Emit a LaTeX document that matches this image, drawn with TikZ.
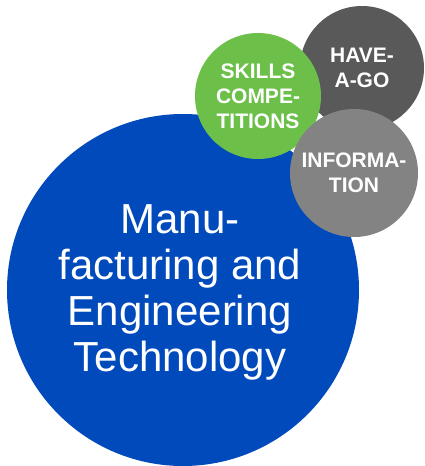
\documentclass[tikz,border=0pt]{standalone}
\usepackage{fontspec}
\setmainfont{Liberation Sans}
\definecolor{bigblue}{HTML}{004ABB}
\definecolor{skillgreen}{HTML}{6CC04A}
\definecolor{darkgrey}{HTML}{595959}
\definecolor{midgrey}{HTML}{838383}
\tikzset{
  bubble/.style={circle, inner sep=0pt, text=white, align=center},
  smalltext/.style={font=\fontsize{21}{25}\selectfont\bfseries},
  bigtext/.style={font=\fontsize{42}{46}\selectfont}
}
\begin{document}
\begin{tikzpicture}[x=1pt,y=-1pt]
\useasboundingbox (0,0) rectangle (425,466);
\node[bubble, fill=bigblue, minimum size=352pt, bigtext] (main) at (183,290) {};
\node[text=white, align=center, bigtext] (maintext) at (180,292) {Manu-\\facturing and\\Engineering\\Technology};
\node[bubble, fill=darkgrey, minimum size=124pt, smalltext] (havego) at (362,68) {HAVE-\\A-GO};
\node[bubble, fill=skillgreen, minimum size=126pt, smalltext] (skills) at (258,96) {SKILLS\\COMPE-\\TITIONS};
\node[bubble, fill=midgrey, minimum size=128pt, smalltext] (info) at (354,173) {INFORMA-\\TION};
\end{tikzpicture}
\end{document}
